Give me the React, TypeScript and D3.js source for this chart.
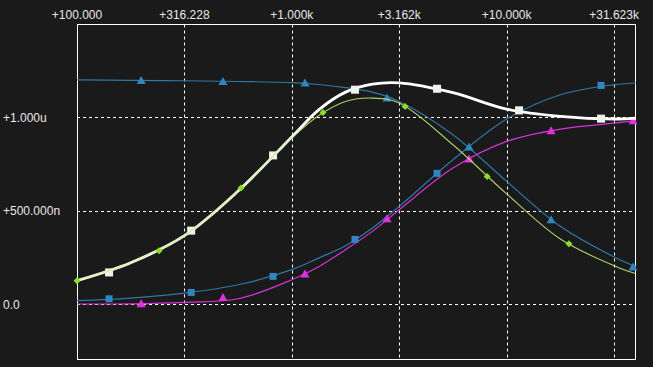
import React, { useEffect } from "react";
import * as d3 from "d3";

// Shared sample frequencies (Hz) for the curves
const freqs = [100, 177.8, 316.2, 562.3, 1000, 1334, 1778, 2371, 3162, 5623, 10000, 17783, 31623, 40000];

// Curve values (in µ units)
const whiteVals = [0.125, 0.221, 0.366, 0.605, 0.895, 1.04, 1.135, 1.178, 1.185, 1.132, 1.044, 1.005, 0.991, 0.996];
const greenVals = [0.125, 0.221, 0.366, 0.605, 0.89, 1.01, 1.085, 1.103, 1.077, 0.853, 0.59, 0.348, 0.205, 0.162];
const blueTriVals = [1.201, 1.198, 1.196, 1.192, 1.186, 1.176, 1.159, 1.135, 1.085, 0.907, 0.657, 0.416, 0.252, 0.2];
const blueSqVals = [0.018, 0.032, 0.058, 0.103, 0.184, 0.246, 0.312, 0.407, 0.523, 0.773, 0.991, 1.121, 1.175, 1.184];
const magentaVals = [0.0, 0.001, 0.009, 0.028, 0.13, 0.2, 0.291, 0.389, 0.505, 0.728, 0.871, 0.937, 0.969, 0.982];

// Marker positions
const sqMarkerFreqs = [141, 340, 818, 1968, 4742, 11420, 27500];
const whiteMarkerVals = [0.169, 0.393, 0.796, 1.148, 1.153, 1.037, 0.993];
const blueSqMarkerVals = [0.028, 0.062, 0.148, 0.346, 0.7, 1.04, 1.171];
const greenMarkerFreqs = [100, 241, 580, 1397, 3365, 8110, 19500];
const greenMarkerVals = [0.125, 0.285, 0.621, 1.026, 1.058, 0.683, 0.323];
const triMarkerFreqs = [199, 478, 1151, 2773, 6683, 16100, 38750];
const blueTriMarkerVals = [1.197, 1.192, 1.184, 1.103, 0.841, 0.452, 0.198];
const magentaMarkerVals = [0.002, 0.035, 0.161, 0.457, 0.777, 0.928, 0.982];

const xTickVals = [100, 316.228, 1000, 3162.28, 10000, 31622.8];
const xTickLabels = ["+100.000", "+316.228", "+1.000k", "+3.162k", "+10.000k", "+31.623k"];
const yTickVals = [0, 0.5, 1];
const yTickLabels = ["0.0", "+500.000n", "+1.000u"];

const W = 653;
const H = 367;
const BG = "#1a1a1a";

export default function App() {
  useEffect(() => {
    document.body.style.margin = "0";
    document.body.style.background = BG;
  }, []);

  const x = d3.scaleLog().domain([100, 40000]).range([77, 636]);
  const y = d3.scaleLinear().domain([-0.3, 1.5]).range([360, 24]);
  const left = 77, right = 636, top = 24.5, bottom = 359.5;

  const line = d3
    .line<[number, number]>()
    .x((d) => x(d[0]))
    .y((d) => y(d[1]))
    .curve(d3.curveCatmullRom.alpha(0.5));

  const pts = (vals: number[]) => freqs.map((f, i) => [f, vals[i]] as [number, number]);

  const square = (fx: number[], vals: number[], color: string, size: number, key: string) =>
    fx.map((f, i) => (
      <rect
        key={key + i}
        x={x(f) - size / 2}
        y={y(vals[i]) - size / 2}
        width={size}
        height={size}
        fill={color}
      />
    ));

  const tri = (fx: number[], vals: number[], color: string, key: string) =>
    fx.map((f, i) => {
      const cx = x(f), cy = y(vals[i]);
      return (
        <path
          key={key + i}
          d={`M${cx},${cy - 4.5}L${cx + 4.5},${cy + 3.5}L${cx - 4.5},${cy + 3.5}Z`}
          fill={color}
        />
      );
    });

  const dots = (fx: number[], vals: number[], color: string, key: string) =>
    fx.map((f, i) => {
      const cx = x(f), cy = y(vals[i]);
      return (
        <path key={key + i} d={`M${cx},${cy - 3.5}L${cx + 3.5},${cy}L${cx},${cy + 3.5}L${cx - 3.5},${cy}Z`} fill={color} />
      );
    });

  return (
    <svg width={W} height={H} style={{ display: "block", background: BG }}>
      <rect x={0} y={0} width={W} height={H} fill={BG} />
      {/* grid */}
      {xTickVals.slice(1).map((v, i) => (
        <line
          key={"gx" + i}
          x1={Math.round(x(v)) + 0.5}
          x2={Math.round(x(v)) + 0.5}
          y1={top}
          y2={bottom}
          stroke="#ffffff"
          strokeWidth={1}
          strokeDasharray="3,3"
        />
      ))}
      {yTickVals.map((v, i) => (
        <line
          key={"gy" + i}
          x1={left}
          x2={right}
          y1={Math.round(y(v)) + 0.5}
          y2={Math.round(y(v)) + 0.5}
          stroke="#ffffff"
          strokeWidth={1}
          strokeDasharray="3,3"
        />
      ))}
      {/* border */}
      <rect x={left + 0.5} y={top} width={right - left - 1} height={bottom - top} fill="none" stroke="#ffffff" strokeWidth={1} />

      {/* labels */}
      {xTickVals.map((v, i) => (
        <text
          key={"xl" + i}
          x={x(v)}
          y={19}
          textAnchor="middle"
          fill="#e8e8e8"
          fontFamily="'Liberation Sans', Arial, sans-serif"
          fontSize={12}
        >
          {xTickLabels[i]}
        </text>
      ))}
      {yTickVals.map((v, i) => (
        <text
          key={"yl" + i}
          x={3}
          y={y(v) + 4.5}
          fill="#e8e8e8"
          fontFamily="'Liberation Sans', Arial, sans-serif"
          fontSize={12}
        >
          {yTickLabels[i]}
        </text>
      ))}

      {/* curves */}
      <path d={line(pts(blueTriVals)) || ""} fill="none" stroke="#2f78a8" strokeWidth={1.2} />
      <path d={line(pts(blueSqVals)) || ""} fill="none" stroke="#2f78a8" strokeWidth={1.2} />
      <path d={line(pts(magentaVals)) || ""} fill="none" stroke="#d832d8" strokeWidth={1.2} />
      {tri(triMarkerFreqs, blueTriMarkerVals, "#2f86c0", "bt")}
      {square(sqMarkerFreqs, blueSqMarkerVals, "#2f86c0", 7, "bs")}
      {tri(triMarkerFreqs, magentaMarkerVals, "#e030e0", "mt")}
      <path d={line(pts(whiteVals)) || ""} fill="none" stroke="#ffffff" strokeWidth={2.8} />
      {square(sqMarkerFreqs, whiteMarkerVals, "#f0f2ea", 8, "ws")}
      <path d={line(pts(greenVals)) || ""} fill="none" stroke="#c4f07a" strokeWidth={1.1} strokeOpacity={0.85} />
      {dots(greenMarkerFreqs, greenMarkerVals, "#86e024", "gd")}
    </svg>
  );
}
